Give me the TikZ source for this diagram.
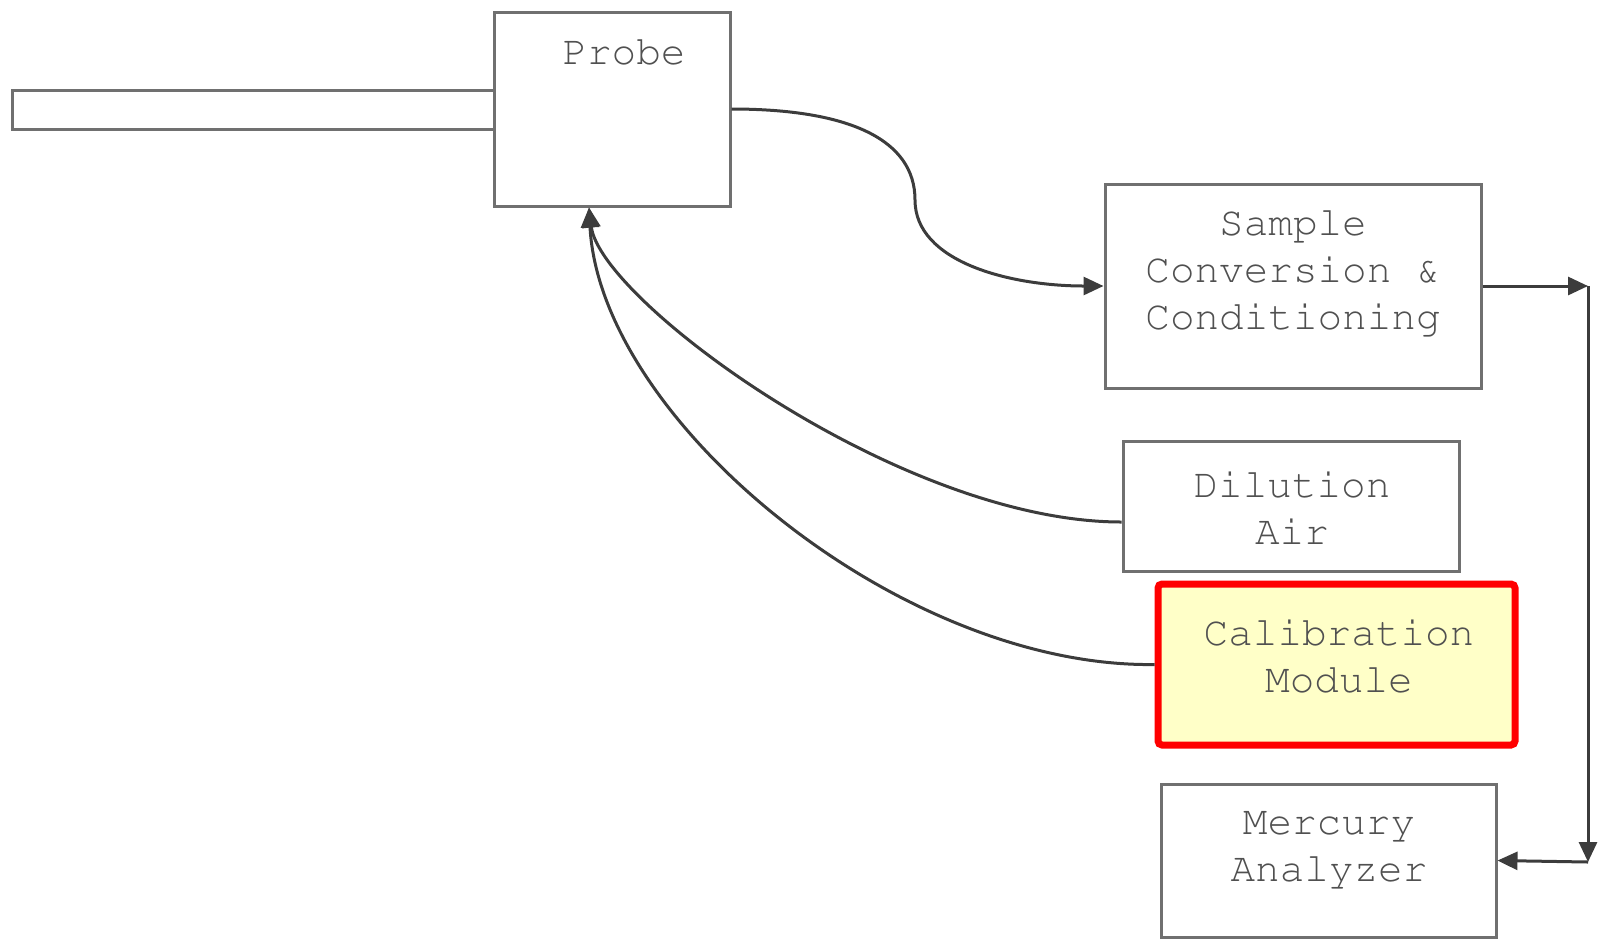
\documentclass[tikz,border=0pt]{standalone}
\usepackage[T1]{fontenc}
\usepackage{courier}
\usetikzlibrary{arrows.meta}
\definecolor{boxgray}{HTML}{707070}
\definecolor{linegray}{HTML}{3C3C3C}
\definecolor{txtgray}{HTML}{505050}
\definecolor{calfill}{HTML}{FFFFC8}
\definecolor{calred}{HTML}{FF0000}
\begin{document}
\begin{tikzpicture}[x=0.5pt,y=-0.5pt,
    unit/.style={draw=boxgray, line width=1.5pt, fill=white, inner sep=0pt},
    txt/.style={font=\fontfamily{pcr}\fontsize{20.5}{23.5}\selectfont, text=txtgray, align=center},
    flow/.style={draw=linegray, line width=1.5pt, -{Triangle[length=10pt,width=9pt]}}
  ]
    \useasboundingbox (0,0) rectangle (1600,939);
    \node[unit, minimum width=241pt, minimum height=19.5pt] (pipe) at (253,109.5) {};
    \node[unit, minimum width=118pt, minimum height=97pt] (probe) at (612,109) {};
    \node[unit, minimum width=188pt, minimum height=102pt] (sample) at (1293,286) {};
    \node[unit, minimum width=168pt, minimum height=65pt] (dilution) at (1291,506) {};
    \node[unit, draw=calred, line width=3.5pt, rounded corners=2pt, fill=calfill,
          minimum width=178.5pt, minimum height=80.5pt] (calib) at (1336.5,664.5) {};
    \node[unit, minimum width=167.5pt, minimum height=76.5pt] (analyzer) at (1328.5,860.5) {};

    \node[txt] (probetxt) at (624,52) {Probe};
    \node[txt] (sampletxt) at (1293,273) {Sample\\Conversion \&\\Conditioning};
    \node[txt] (dilutiontxt) at (1292,508) {Dilution\\Air};
    \node[txt] (calibtxt) at (1339,656) {Calibration\\Module};
    \node[txt] (analyzertxt) at (1329,850) {Mercury\\Analyzer};

    \coordinate (inlet) at ([xshift=-11.5pt]probe.south);
    \coordinate (turn1) at (1588,286);
    \coordinate (turn2) at (1588,862);

    \draw[flow] (probe.east) .. controls (850,109) and (915,140) .. (915,200)
        .. controls (915,262) and (1010,286) .. (sample.west);
    \draw[flow] ([yshift=-8pt]dilution.west) .. controls (900,522) and (600,300) .. (inlet);
    \draw[flow] (calib.west) .. controls (900,668) and (600,420) .. (inlet);
    \draw[flow] (sample.east) -- (turn1);
    \draw[flow] (turn1) -- (turn2);
    \draw[flow] (turn2) -- (analyzer.east);
\end{tikzpicture}
\end{document}
